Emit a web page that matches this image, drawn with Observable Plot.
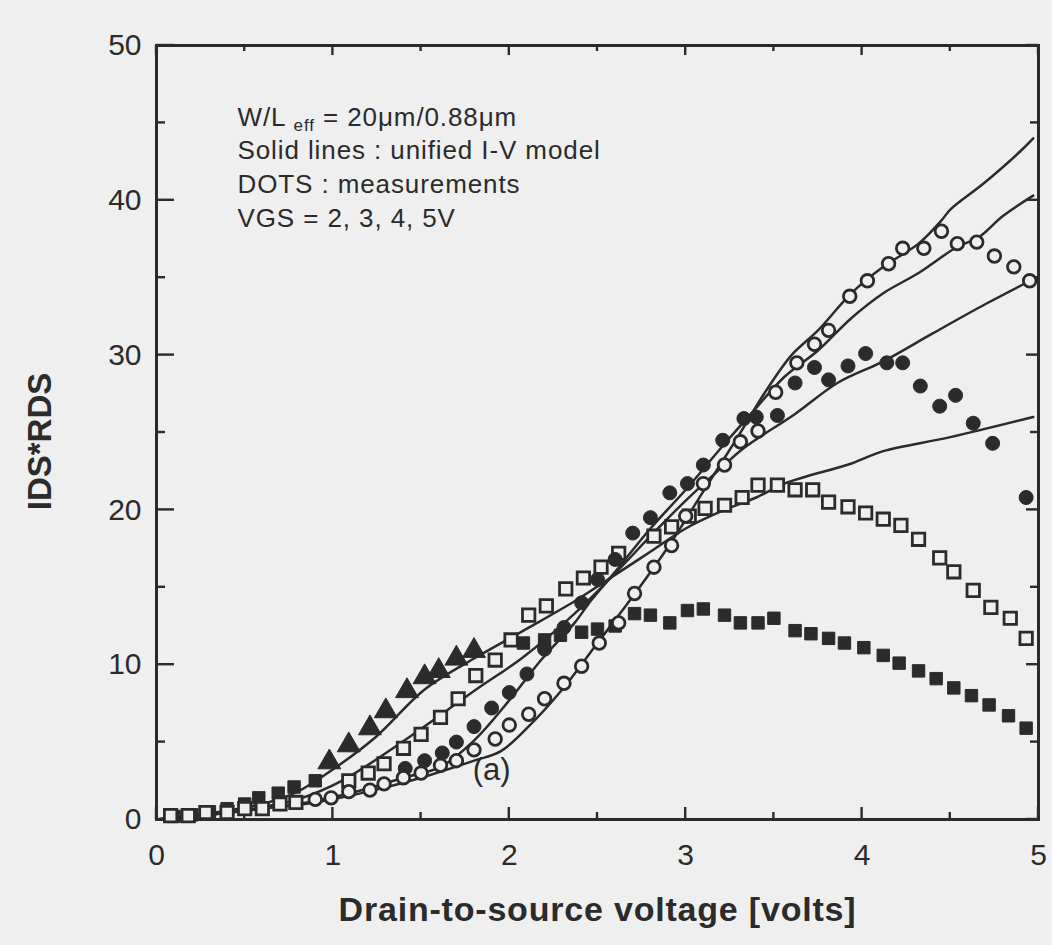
<!DOCTYPE html>
<html>
<head>
<meta charset="utf-8">
<script src="https://cdn.jsdelivr.net/npm/d3@7"></script>
<script src="https://cdn.jsdelivr.net/npm/@observablehq/plot@0.6"></script>
<style>
  html, body { margin: 0; padding: 0; background: #efefef; }
  #chart { width: 1052px; height: 945px; }
</style>
</head>
<body>
<div id="chart"></div>
<script>
// ---- data ----
const xTicks = [0, 1, 2, 3, 4, 5];
const yTicks = [0, 10, 20, 30, 40, 50];
const xMinor = [0.5, 1.5, 2.5, 3.5, 4.5];
const yMinor = [5, 15, 25, 35, 45];

const legendLines = ["W/L eff = 20\u03bcm/0.88\u03bcm", "Solid lines : unified I-V model", "DOTS : measurements", "VGS = 2, 3, 4, 5V"];
const xLabel = "Drain-to-source voltage [volts]";
const yLabel = "IDS*RDS";
const panelLabel = "(a)";

// measurements, VGS = 2 V (filled markers)
const vgs2X = [0.1,0.2,0.3,0.4,0.5,0.58,0.69,0.78,0.9,0.98,1.09,1.21,1.3,1.42,1.52,1.6,1.7,1.8,2.08,2.2,2.29,2.41,2.5,2.6,2.71,2.8,2.91,3.01,3.1,3.22,3.31,3.41,3.5,3.62,3.71,3.81,3.9,4.01,4.12,4.21,4.32,4.42,4.52,4.62,4.72,4.83,4.93];
const vgs2Y = [0.2,0.3,0.5,0.7,1.0,1.4,1.7,2.1,2.5,3.7,4.8,5.9,7.0,8.3,9.2,9.6,10.4,10.9,11.4,11.6,11.9,12.1,12.3,12.5,13.3,13.2,12.7,13.5,13.6,13.2,12.7,12.7,13.0,12.2,12.0,11.7,11.4,11.1,10.6,10.1,9.6,9.1,8.5,8.0,7.4,6.7,5.9];
// VGS = 3 V (open squares)
const vgs3X = [0.08,0.18,0.28,0.4,0.5,0.6,0.7,0.79,1.09,1.2,1.29,1.4,1.5,1.61,1.71,1.81,1.92,2.01,2.11,2.21,2.32,2.42,2.52,2.62,2.82,2.92,3.02,3.11,3.22,3.32,3.41,3.52,3.62,3.72,3.81,3.92,4.02,4.12,4.22,4.32,4.44,4.52,4.63,4.73,4.84,4.93];
const vgs3Y = [0.25,0.25,0.45,0.45,0.7,0.7,1.0,1.1,2.5,3.0,3.6,4.6,5.5,6.6,7.8,9.3,10.3,11.6,13.2,13.8,14.9,15.6,16.3,17.2,18.3,18.9,19.6,20.1,20.3,20.8,21.6,21.6,21.3,21.3,20.5,20.2,19.8,19.4,19.0,18.1,16.9,16.0,14.8,13.7,13.0,11.7];
// VGS = 4 V (filled circles)
const vgs4X = [1.41,1.52,1.62,1.7,1.8,1.9,2.0,2.1,2.2,2.31,2.41,2.5,2.6,2.7,2.8,2.91,3.01,3.1,3.21,3.33,3.4,3.52,3.62,3.73,3.81,3.92,4.02,4.14,4.23,4.33,4.44,4.53,4.63,4.74,4.93];
const vgs4Y = [3.3,3.8,4.3,5.0,6.0,7.2,8.2,9.4,11.0,12.4,14.0,15.5,16.8,18.5,19.5,21.1,21.7,22.9,24.5,25.9,26.0,26.1,28.2,29.2,28.4,29.3,30.1,29.5,29.5,28.0,26.7,27.4,25.6,24.3,20.8];
// VGS = 5 V (open circles)
const vgs5X = [0.9,0.99,1.09,1.21,1.29,1.4,1.5,1.61,1.7,1.8,1.92,2.0,2.11,2.2,2.31,2.41,2.51,2.62,2.71,2.82,2.92,3.0,3.1,3.22,3.31,3.41,3.51,3.63,3.73,3.81,3.93,4.03,4.15,4.23,4.35,4.45,4.54,4.65,4.75,4.86,4.95];
const vgs5Y = [1.3,1.4,1.8,1.9,2.3,2.7,3.0,3.5,3.8,4.5,5.2,6.1,6.8,7.8,8.8,9.9,11.4,12.7,14.6,16.3,17.7,19.6,21.7,22.9,24.4,25.1,27.6,29.5,30.7,31.6,33.8,34.8,35.9,36.9,36.9,38.0,37.2,37.3,36.4,35.7,34.8];

// model curves (solid lines)
const line2X = [0,0.3,0.6,0.8,0.97,1.24,1.52,1.8,2.08,2.37,2.6,2.8,3.0,3.2,3.4,3.56,3.94,4.12,4.5,4.97];
const line2Y = [0,0.4,1.0,1.8,3.0,5.3,8.4,10.4,12.2,14.1,15.8,17.3,18.8,19.9,20.8,21.7,23.0,23.8,24.7,26.0];
const line3X = [0,0.3,0.6,0.8,1.05,1.43,1.8,2.08,2.37,2.6,2.8,3.0,3.2,3.33,3.62,3.86,4.12,4.4,4.7,4.97];
const line3Y = [0,0.3,0.8,1.3,2.5,5.3,8.3,10.5,13.3,15.9,18.3,20.6,22.7,24.0,26.2,28.2,29.6,31.4,33.3,34.9];
const line4X = [0,0.3,0.6,0.9,1.2,1.4,1.61,1.8,2.0,2.18,2.37,2.46,2.6,2.8,3.0,3.2,3.37,3.56,3.75,3.94,4.12,4.32,4.54,4.66,4.8,4.97];
const line4Y = [0,0.3,0.7,1.2,2.0,2.7,3.4,5.1,7.7,10.3,12.7,14.1,16.0,18.8,21.3,24.0,26.2,28.6,30.3,32.4,34.0,35.3,37.0,37.6,39.0,40.3];
const line5X = [0,0.3,0.6,0.9,1.2,1.5,1.8,1.95,2.1,2.3,2.5,2.7,2.9,3.1,3.3,3.45,3.6,3.75,3.94,4.12,4.32,4.45,4.5,4.69,4.9,4.97];
const line5Y = [0,0.3,0.7,1.1,1.8,2.7,3.8,4.4,5.9,8.4,11.4,14.4,17.6,21.2,24.8,27.6,30.0,31.6,34.0,35.7,37.2,38.7,39.4,41.1,43.2,44.0];

// ---- build tables ----
const zip = (xs, ys) => xs.map((x, i) => ({x, y: ys[i]}));
const m2 = zip(vgs2X, vgs2Y), m3 = zip(vgs3X, vgs3Y), m4 = zip(vgs4X, vgs4Y), m5 = zip(vgs5X, vgs5Y);
const models = [zip(line2X, line2Y), zip(line3X, line3Y), zip(line4X, line4Y), zip(line5X, line5Y)];

const ink = "#2b2b2b";
const bg = "#efefef";
const font = "'Liberation Sans', Arial, Helvetica, sans-serif";

const tri = m2.filter(d => d.x > 0.95 && d.x < 1.85);
const sq2 = m2.filter(d => !(d.x > 0.95 && d.x < 1.85));

// inward ticks on all four sides, positioned through the plot's scales
function insideTicks(index, scales, values, dims) {
  const g = d3.create("svg:g").attr("stroke", ink).attr("stroke-width", 2.4).attr("fill", "none");
  const {x, y} = scales;
  const [x0, x1] = x.range ? x.range() : [dims.marginLeft, dims.width - dims.marginRight];
  const [y0, y1] = y.range ? y.range() : [dims.height - dims.marginBottom, dims.marginTop];
  const left = Math.min(x0, x1), right = Math.max(x0, x1);
  const top = Math.min(y0, y1), bottom = Math.max(y0, y1);
  const seg = (a, b, c, d) => g.append("path").attr("d", `M${a},${b}L${c},${d}`);
  for (const t of xTicks) { seg(x(t), bottom, x(t), bottom - 12); seg(x(t), top, x(t), top + 10); }
  for (const t of xMinor) { seg(x(t), bottom, x(t), bottom - 7); seg(x(t), top, x(t), top + 6); }
  for (const t of yTicks) { seg(left, y(t), left + 18, y(t)); seg(right, y(t), right - 12, y(t)); }
  for (const t of yMinor) { seg(left, y(t), left + 9, y(t)); seg(right, y(t), right - 8, y(t)); }
  return g.node();
}

const chart = Plot.plot({
  width: 1052,
  height: 945,
  marginLeft: 156,
  marginRight: 14,
  marginTop: 45,
  marginBottom: 126,
  style: {background: "transparent", fontFamily: font, color: ink},
  x: {domain: [0, 5]},
  y: {domain: [0, 50]},
  marks: [
    Plot.frame({stroke: ink, strokeWidth: 3}),
    insideTicks,
    Plot.axisX({ticks: xTicks, tickSize: 0, tickPadding: 24, fontSize: 30, tickFormat: d => String(d), label: null}),
    Plot.axisY({ticks: yTicks, tickSize: 0, tickPadding: 15, fontSize: 30, tickFormat: d => String(d), label: null}),
    // model lines
    ...models.map(m => Plot.line(m, {x: "x", y: "y", stroke: ink, strokeWidth: 2.5, curve: "catmull-rom"})),
    // measurements
    Plot.dot(sq2, {x: "x", y: "y", symbol: "square", r: 7, fill: ink, stroke: ink, strokeWidth: 1}),
    Plot.dot(tri, {x: "x", y: "y", symbol: "triangle", r: 8.5, fill: ink, stroke: ink, strokeWidth: 1}),
    Plot.dot(m3, {x: "x", y: "y", symbol: "square", r: 7, fill: bg, stroke: ink, strokeWidth: 2.8}),
    Plot.dot(m4, {x: "x", y: "y", symbol: "circle", r: 7, fill: ink, stroke: ink, strokeWidth: 1}),
    Plot.dot(m5, {x: "x", y: "y", symbol: "circle", r: 6.3, fill: bg, stroke: ink, strokeWidth: 2.8}),
    // panel label
    Plot.text([panelLabel], {x: 1.9, y: 3.2, fontSize: 31, fill: ink, fontFamily: font}),
    // legend block
    Plot.text([legendLines.join("\n")], {frameAnchor: "top-left", dx: 81, dy: 56, textAnchor: "start", lineAnchor: "top", lineHeight: 1.3, fontSize: 26, fill: ink, fontFamily: font, className: "legendtext"}),
    // axis titles
    Plot.text([xLabel], {frameAnchor: "bottom", dy: 91, lineAnchor: "middle", textAnchor: "middle", fontSize: 34, fontWeight: "bold", fill: ink, fontFamily: font, className: "xtitle"}),
    Plot.text([yLabel], {frameAnchor: "left", dx: -116, dy: 9, rotate: -90, textAnchor: "middle", lineAnchor: "middle", fontSize: 33, fontWeight: "bold", fill: ink, fontFamily: font})
  ]
});

chart.querySelectorAll(".legendtext text").forEach(t => t.setAttribute("letter-spacing", "0.9"));
chart.querySelectorAll(".xtitle text").forEach(t => t.setAttribute("letter-spacing", "0.8"));

// subscript "eff" in the legend
chart.querySelectorAll("tspan, text").forEach(t => {
  if (t.childElementCount === 0 && t.textContent.startsWith("W/L eff")) {
    const rest = t.textContent.slice("W/L eff".length);
    t.textContent = "W/L ";
    const sub = document.createElementNS("http://www.w3.org/2000/svg", "tspan");
    sub.setAttribute("font-size", "17");
    sub.setAttribute("dy", "6");
    sub.textContent = "eff";
    const after = document.createElementNS("http://www.w3.org/2000/svg", "tspan");
    after.setAttribute("dy", "-6");
    after.textContent = rest;
    t.appendChild(sub);
    t.appendChild(after);
  }
});

document.getElementById("chart").appendChild(chart);
</script>
</body>
</html>
